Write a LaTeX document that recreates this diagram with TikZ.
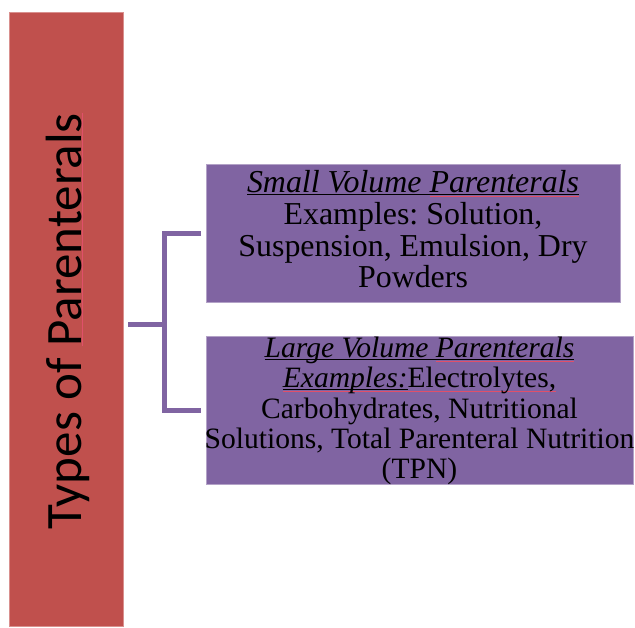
\documentclass[tikz,border=0pt]{standalone}
\usepackage{fontspec}
\setmainfont{Liberation Serif}
\newfontfamily\calibri{Carlito}
\frenchspacing

\definecolor{barred}{HTML}{C0504D}
\definecolor{baredge}{HTML}{D9908E}
\definecolor{boxpurple}{HTML}{8064A2}
\definecolor{boxedge}{HTML}{B3A2C7}
\definecolor{spellred}{HTML}{E0506A}

% black underline at a fixed depth, and a thin red proofing mark
\newsavebox\ulbox
\newsavebox\spbox
\newcommand\ulit[1]{\sbox\ulbox{#1}\rlap{\rule[-1.8pt]{\wd\ulbox}{0.9pt}}\usebox\ulbox}
\newcommand\spell[2][-3.8pt]{\sbox\spbox{#2}\rlap{\textcolor{spellred}{\rule[#1]{\wd\spbox}{0.7pt}}}\usebox\spbox}

\tikzset{
  redbar/.style={fill=barred, draw=baredge, line width=0.8pt, inner sep=0pt, outer sep=0pt},
  pbox/.style={fill=boxpurple, draw=boxedge, line width=0.8pt, inner sep=0pt, outer sep=0pt},
  boxtext/.style={inner sep=0pt, align=center, text=black},
  bracket/.style={draw=boxpurple, line width=5pt},
}

\begin{document}
\begin{tikzpicture}[x=1pt,y=-1pt]
\useasboundingbox (0,0) rectangle (635,627);

% vertical category bar with its rotated title
\node[redbar, minimum width=114pt, minimum height=614pt] (types) at (66,319) {};
\node[anchor=base, rotate=90, inner sep=0pt] (title) at (81,321.5)
  {\calibri\fontsize{51}{51}\selectfont Types of \spell[-1.2pt]{Parenterals}};

% the two purple boxes
\node[pbox, minimum width=414pt, minimum height=138pt] (small) at (413,233) {};
\node[pbox, minimum width=427pt, minimum height=148pt] (large) at (419.5,410) {};

\node[boxtext, anchor=north, font=\fontsize{31.9}{31.7}\selectfont] (smalltext) at (413,170.3)
  {\ulit{\textit{Small Volume \spell{Parenterals}}}\\
   Examples: Solution,\\
   Suspension, Emulsion, Dry\\
   Powders};

\node[boxtext, anchor=north, font=\fontsize{29.55}{30.25}\selectfont] (largetext) at (419.5,336.9)
  {\ulit{\textit{Large Volume \spell{Parenterals}}}\\
   \spell{\ulit{\textit{Examples:}}Electrolytes,}\\
   Carbohydrates, Nutritional\\
   Solutions, Total Parenteral Nutrition\\
   (TPN)};

% bracket joining the bar to both boxes
\coordinate (stem) at (128,324.5);
\coordinate (hub) at (164.5,324.5);
\draw[bracket] (stem) -- (hub);
\draw[bracket] ([xshift=-5pt]small.west) -| (hub) |- ([xshift=-5pt]large.west);
\end{tikzpicture}
\end{document}
